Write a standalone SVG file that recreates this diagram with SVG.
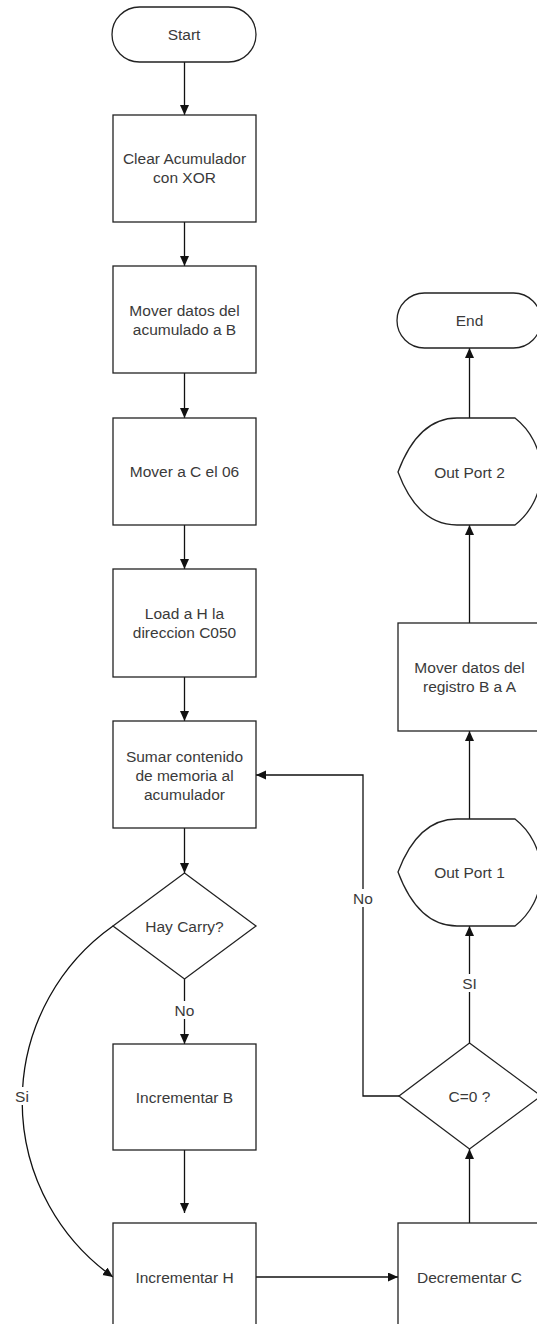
<svg xmlns="http://www.w3.org/2000/svg" width="537" height="1324" viewBox="0 0 537 1324">
<defs>
<marker id="arr" markerUnits="userSpaceOnUse" markerWidth="11" markerHeight="10" refX="10" refY="4.5" orient="auto">
<path d="M0,0 L10,4.5 L0,9 z" fill="#111"/>
</marker>
<style>
.shape{fill:#fff;stroke:#222;stroke-width:1.3}
.conn{fill:none;stroke:#111;stroke-width:1.3}
.t{font-family:"Liberation Sans",Arial,sans-serif;font-size:15.5px;fill:#3a3a3a;text-anchor:middle;dominant-baseline:central}
.lbl{fill:#fff;stroke:none}
</style>
</defs>
<rect x="0" y="0" width="537" height="1324" fill="#fff"/>
<g id="connectors">
<path class="conn" d="M184.5,62 V115" marker-end="url(#arr)"/>
<path class="conn" d="M184.5,222 V266" marker-end="url(#arr)"/>
<path class="conn" d="M184.5,373 V418" marker-end="url(#arr)"/>
<path class="conn" d="M184.5,525 V569" marker-end="url(#arr)"/>
<path class="conn" d="M184.5,677 V721" marker-end="url(#arr)"/>
<path class="conn" d="M184.5,828 V873" marker-end="url(#arr)"/>
<path class="conn" d="M184.5,979 V1044" marker-end="url(#arr)"/>
<rect class="lbl" x="172" y="1001" width="25" height="18"/>
<text class="t" x="184.5" y="1010">No</text>
<path class="conn" d="M184.5,1150 V1213" marker-end="url(#arr)"/>
<path class="conn" d="M113,926 A215,215 0 0 0 113,1277" marker-end="url(#arr)"/>
<rect class="lbl" x="12" y="1087" width="20" height="18"/>
<text class="t" x="22" y="1096">Si</text>
<path class="conn" d="M256,1277 H398" marker-end="url(#arr)"/>
<path class="conn" d="M469.5,1223 V1149" marker-end="url(#arr)"/>
<path class="conn" d="M469.5,1043 V926" marker-end="url(#arr)"/>
<rect class="lbl" x="459" y="974" width="21" height="18"/>
<text class="t" x="469.5" y="983">SI</text>
<path class="conn" d="M399,1096 H363 V775 H256" marker-end="url(#arr)"/>
<rect class="lbl" x="351" y="889" width="25" height="18"/>
<text class="t" x="363" y="898">No</text>
<path class="conn" d="M469.5,819 V731" marker-end="url(#arr)"/>
<path class="conn" d="M469.5,623 V525" marker-end="url(#arr)"/>
<path class="conn" d="M469.5,418 V348" marker-end="url(#arr)"/>
</g>
<g id="start">
<rect class="shape" x="112" y="7" width="144" height="55" rx="27.5"/>
<text class="t" x="184" y="34.5">Start</text>
</g>
<g id="clear">
<rect class="shape" x="113" y="115" width="143" height="107"/>
<text class="t" x="184.5" y="158.5">Clear Acumulador</text>
<text class="t" x="184.5" y="177.5">con XOR</text>
</g>
<g id="mover-b">
<rect class="shape" x="113" y="266" width="143" height="107"/>
<text class="t" x="184.5" y="310">Mover datos del</text>
<text class="t" x="184.5" y="329">acumulado a B</text>
</g>
<g id="mover-c">
<rect class="shape" x="113" y="418" width="143" height="107"/>
<text class="t" x="184.5" y="471.5">Mover a C el 06</text>
</g>
<g id="load-h">
<rect class="shape" x="113" y="569" width="143" height="108"/>
<text class="t" x="184.5" y="613.5">Load a H la</text>
<text class="t" x="184.5" y="632.5">direccion C050</text>
</g>
<g id="sumar">
<rect class="shape" x="113" y="721" width="143" height="107"/>
<text class="t" x="184.5" y="756">Sumar contenido</text>
<text class="t" x="184.5" y="775">de memoria al</text>
<text class="t" x="184.5" y="794">acumulador</text>
</g>
<g id="hay-carry">
<polygon class="shape" points="184.5,873 256,926 184.5,979 113,926"/>
<text class="t" x="184.5" y="926">Hay Carry?</text>
</g>
<g id="inc-b">
<rect class="shape" x="113" y="1044" width="143" height="106"/>
<text class="t" x="184.5" y="1097">Incrementar B</text>
</g>
<g id="inc-h">
<rect class="shape" x="113" y="1223" width="143" height="110"/>
<text class="t" x="184.5" y="1277">Incrementar H</text>
</g>
<g id="dec-c">
<rect class="shape" x="398" y="1223" width="143" height="110"/>
<text class="t" x="469.5" y="1277">Decrementar C</text>
</g>
<g id="c-zero">
<polygon class="shape" points="469.5,1043 541,1096 469.5,1149 399,1096"/>
<text class="t" x="469.5" y="1096">C=0 ?</text>
</g>
<g id="out-port-1">
<path class="shape" d="M398,872 C410,840 428,819 457,819 H515 A68,68 0 0 1 515,926 H457 C428,926 410,904 398,872 Z"/>
<text class="t" x="469.5" y="872">Out Port 1</text>
</g>
<g id="mover-a">
<rect class="shape" x="398" y="623" width="143" height="108"/>
<text class="t" x="469.5" y="667">Mover datos del</text>
<text class="t" x="469.5" y="686">registro B a A</text>
</g>
<g id="out-port-2">
<path class="shape" d="M398,472 C410,440 428,418 457,418 H515 A68,68 0 0 1 515,525 H457 C428,525 410,504 398,472 Z"/>
<text class="t" x="469.5" y="472">Out Port 2</text>
</g>
<g id="end">
<rect class="shape" x="397" y="293" width="144" height="55" rx="27.5"/>
<text class="t" x="469.5" y="320">End</text>
</g>
</svg>
